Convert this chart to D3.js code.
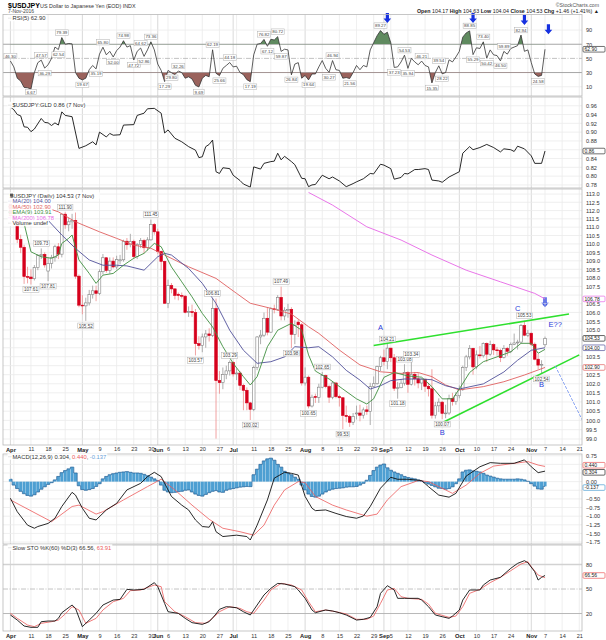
<!DOCTYPE html>
<html>
<head>
<meta charset="utf-8">
<title>$USDJPY daily</title>
<script src="https://cdn.jsdelivr.net/npm/d3@7"></script>
<style>
  body { margin: 0; background: #fff; }
  svg text { font-family: "Liberation Sans", Arial, sans-serif; }
</style>
</head>
<body>
<svg id="chart" width="606" height="640"></svg>
<script>
// ---- trading days (2016, MM-DD) ----
const days = [
 "04-01","04-04","04-05","04-06","04-07","04-08","04-11","04-12","04-13","04-14","04-15","04-18","04-19","04-20","04-21","04-22","04-25","04-26","04-27","04-28","04-29",
 "05-02","05-03","05-04","05-05","05-06","05-09","05-10","05-11","05-12","05-13","05-16","05-17","05-18","05-19","05-20","05-23","05-24","05-25","05-26","05-27","05-30","05-31",
 "06-01","06-02","06-03","06-06","06-07","06-08","06-09","06-10","06-13","06-14","06-15","06-16","06-17","06-20","06-21","06-22","06-23","06-24","06-27","06-28","06-29","06-30",
 "07-01","07-04","07-05","07-06","07-07","07-08","07-11","07-12","07-13","07-14","07-15","07-18","07-19","07-20","07-21","07-22","07-25","07-26","07-27","07-28","07-29",
 "08-01","08-02","08-03","08-04","08-05","08-08","08-09","08-10","08-11","08-12","08-15","08-16","08-17","08-18","08-19","08-22","08-23","08-24","08-25","08-26","08-29","08-30","08-31",
 "09-01","09-02","09-05","09-06","09-07","09-08","09-09","09-12","09-13","09-14","09-15","09-16","09-19","09-20","09-21","09-22","09-23","09-26","09-27","09-28","09-29","09-30",
 "10-03","10-04","10-05","10-06","10-07","10-10","10-11","10-12","10-13","10-14","10-17","10-18","10-19","10-20","10-21","10-24","10-25","10-26","10-27","10-28","10-31",
 "11-01","11-02","11-03","11-04","11-07"];
const futureDays = ["11-08","11-09","11-10","11-11","11-14","11-15","11-16","11-17","11-18","11-21","11-22"];

// ---- daily candles ----
const opens = [
 112.40,111.70,111.38,110.27,109.80,108.08,108.05,107.95,108.60,109.30,109.38,108.40,108.85,109.18,109.83,109.39,111.78,111.14,111.32,111.41,108.10,
 106.42,106.38,106.55,107.03,107.25,107.10,108.36,109.18,108.43,108.98,108.64,109.00,109.06,110.16,109.95,110.14,109.25,109.97,110.20,109.77,110.24,111.16,
 110.72,109.55,108.97,106.53,107.55,107.36,107.05,106.98,106.94,106.01,106.05,105.99,104.23,104.13,104.61,104.78,104.69,106.23,102.17,102.06,102.50,102.71,
 103.18,102.54,102.59,101.91,101.64,100.95,100.60,102.89,104.61,104.71,105.67,104.88,106.21,106.17,106.87,105.80,106.13,106.18,104.76,105.45,105.30,
 102.04,102.36,100.78,101.30,101.25,101.81,102.45,101.84,101.26,102.04,101.29,101.23,100.27,100.21,99.90,100.35,100.40,100.28,100.57,100.48,101.84,102.00,102.95,
 103.44,103.23,103.98,103.44,101.75,101.78,102.03,102.62,101.97,102.52,102.27,102.04,102.25,101.86,101.72,100.28,100.79,100.99,100.38,100.40,101.19,101.02,
 101.34,101.68,102.89,103.49,103.97,102.93,103.60,103.55,104.24,103.64,104.18,103.88,103.85,103.45,103.96,103.80,104.19,104.27,104.32,105.25,104.71,
 104.82,104.20,103.36,103.03,104.17];
const highs = [
 112.55,111.95,111.50,110.55,109.95,108.65,108.50,108.75,109.40,109.73,109.50,109.20,109.35,109.95,110.05,111.80,111.90,111.55,111.80,111.88,108.20,
 107.00,106.85,107.30,107.55,107.55,108.50,109.40,109.20,109.20,109.20,109.30,109.35,110.25,110.35,110.60,110.25,110.05,110.35,110.30,110.40,111.45,111.25,
 110.90,109.60,109.00,107.90,107.70,107.40,107.15,107.15,107.00,106.35,106.45,106.20,104.65,104.80,105.00,105.10,106.81,106.80,102.70,102.90,103.00,103.29,
 103.25,102.85,102.70,102.00,101.80,101.00,103.00,104.65,105.00,106.00,106.30,106.30,106.45,107.00,107.49,106.30,106.50,106.30,105.55,105.60,105.40,
 102.90,102.45,101.40,101.45,102.00,102.65,102.50,101.95,102.10,102.10,101.40,101.25,100.80,100.30,100.40,100.80,100.85,100.70,100.80,102.05,102.40,103.00,103.55,
 103.90,104.21,104.00,103.65,102.10,102.25,103.08,102.70,103.34,102.65,102.60,102.30,102.25,102.05,102.80,101.00,101.20,101.05,100.85,101.40,101.50,101.55,
 101.90,103.00,103.60,104.15,104.00,103.85,104.10,104.30,104.30,104.40,104.25,104.05,103.95,104.15,104.05,104.30,104.80,104.45,105.35,105.53,105.00,
 104.85,104.30,103.65,103.30,104.63];
const lows = [
 111.45,111.20,110.05,109.45,107.65,107.68,107.61,107.85,108.45,109.10,108.60,107.81,108.55,108.95,109.10,109.20,110.90,110.75,110.90,107.95,106.30,
 105.90,105.52,106.40,106.80,106.65,107.00,108.20,108.30,108.25,108.55,108.50,108.80,108.95,109.65,109.80,109.10,109.10,109.75,109.45,109.60,110.20,110.55,
 109.40,108.45,106.50,106.25,107.10,106.75,106.70,106.80,105.95,105.75,105.75,103.57,103.90,103.75,104.00,104.35,104.60,99.02,101.45,101.70,102.25,102.45,
 102.40,102.20,101.65,100.55,100.55,100.02,100.50,102.75,104.20,104.60,104.70,104.85,105.95,106.10,105.55,105.55,105.70,103.98,104.20,104.60,101.90,
 101.90,100.65,100.70,100.95,100.95,101.75,101.75,100.95,101.15,101.20,100.75,99.53,99.90,99.65,99.75,100.05,99.95,100.10,100.30,99.75,101.80,101.95,102.70,
 103.00,102.80,103.20,101.60,101.18,101.75,101.90,101.50,101.90,101.90,101.75,101.65,101.55,101.30,100.10,100.10,100.45,100.07,100.12,100.30,100.80,100.85,
 101.20,101.60,102.70,103.35,102.50,102.80,103.40,103.45,103.20,103.55,103.60,103.55,103.20,103.40,103.55,103.70,104.15,103.90,104.25,104.65,104.60,
 104.10,103.30,102.80,102.54,104.04];
const closes = [
 111.70,111.38,110.27,109.80,108.08,108.05,107.95,108.60,109.30,109.38,108.76,108.85,109.18,109.83,109.39,111.78,111.14,111.32,111.41,108.10,106.42,
 106.38,106.55,107.03,107.25,107.10,108.36,109.18,108.43,108.98,108.64,109.07,109.06,110.16,109.95,110.14,109.25,109.97,110.20,109.77,110.24,111.16,110.72,
 109.55,108.97,106.53,107.55,107.36,106.98,106.98,106.94,106.01,106.05,105.99,104.23,104.13,104.61,104.78,104.69,106.23,102.17,102.06,102.50,102.71,103.18,
 102.54,102.59,101.91,101.64,100.95,100.60,102.89,104.61,104.71,105.67,104.88,106.21,106.17,106.87,105.80,106.13,106.18,104.76,105.25,105.30,102.04,
 102.36,100.78,101.26,101.25,101.81,102.45,101.84,101.26,102.04,101.29,101.23,100.27,100.21,99.90,100.21,100.40,100.28,100.57,100.48,101.84,102.00,102.95,103.44,
 103.23,103.98,103.44,101.75,101.78,102.03,102.62,101.97,102.52,102.27,102.04,102.25,101.86,101.72,100.28,100.79,100.99,100.38,100.40,101.19,101.02,101.34,
 101.68,102.89,103.49,103.97,102.93,103.60,103.55,104.24,103.64,104.18,103.88,103.85,103.45,103.96,103.80,104.19,104.27,104.32,105.25,104.71,104.82,
 104.20,103.36,103.03,103.07,104.53];

// ---- overlays ----
const ma20 = [["04-15",111.63],["04-22",110.53],["04-28",109.73],["05-04",109.05],["05-10",108.74],["05-16",108.74],["05-19",108.70],["05-26",108.45],["06-01",109.24],["06-03",109.44],["06-07",109.34],["06-14",108.55],["06-20",107.68],["06-24",106.52],["06-30",104.99],["07-06",103.86],["07-12",103.13],["07-18",103.22],["07-22",103.49],["07-27",104.06],["08-02",104.00],["08-05",104.06],["08-11",103.49],["08-17",102.74],["08-23",102.20],["08-26",101.71],["08-31",101.89],["09-05",102.17],["09-09",102.26],["09-16",102.26],["09-21",102.22],["09-27",101.89],["10-03",101.71],["10-12",101.99],["10-20",102.65],["10-26",103.30],["11-01",103.86],["11-07",104.00]];
const ma50 = [["04-15",112.21],["04-21",111.92],["04-28",111.32],["05-09",110.72],["05-16",110.33],["05-23",109.93],["05-30",109.74],["06-03",109.34],["06-14",108.65],["06-24",107.97],["07-04",107.10],["07-08",106.53],["07-18",106.24],["07-26",105.91],["08-02",105.19],["08-05",104.81],["08-15",103.87],["08-23",103.04],["08-31",102.66],["09-08",102.57],["09-15",102.62],["09-21",102.39],["09-27",101.93],["10-03",101.66],["10-12",101.84],["10-20",102.11],["10-28",102.48],["11-03",102.76],["11-07",102.90]];
const ema9 = [["04-07",111.22],["04-11",109.53],["04-14",109.24],["04-19",109.15],["04-21",109.34],["04-22",110.03],["04-26",110.33],["04-27",110.53],["04-29",109.05],["05-04",108.26],["05-06",107.68],["05-10",108.16],["05-13",108.26],["05-18",108.74],["05-23",109.15],["05-26",109.44],["05-31",110.03],["06-02",109.83],["06-07",108.64],["06-10",107.77],["06-15",106.90],["06-20",105.95],["06-23",105.18],["06-28",104.06],["07-01",103.13],["07-06",102.39],["07-08",101.93],["07-12",102.39],["07-15",104.06],["07-20",104.99],["07-26",105.38],["07-29",104.99],["08-02",103.60],["08-04",102.70],["08-10",102.26],["08-16",101.71],["08-22",101.17],["08-25",100.89],["08-29",101.17],["09-01",102.35],["09-06",102.62],["09-12",102.43],["09-16",102.36],["09-21",101.84],["09-26",101.17],["09-29",101.17],["10-03",101.71],["10-06",102.62],["10-12",103.22],["10-18",103.49],["10-24",103.77],["10-27",104.25],["11-01",104.25],["11-03",103.69],["11-07",103.91]];
const ma200 = [["08-02",113.10],["08-11",112.33],["08-25",111.02],["09-08",110.23],["09-21",109.34],["10-05",108.45],["10-19",107.77],["11-02",107.10],["11-07",106.78]];

// ---- ratio $USDJPY:GLD ----
const gld = [["04-01",0.957],["04-04",0.951],["04-05",0.940],["04-06",0.937],["04-07",0.912],["04-08",0.911],["04-11",0.901],["04-12",0.907],["04-14",0.931],["04-15",0.922],["04-18",0.921],["04-19",0.915],["04-20",0.921],["04-21",0.916],["04-22",0.946],["04-25",0.938],["04-27",0.935],["04-29",0.863],["05-03",0.869],["05-05",0.878],["05-06",0.871],["05-09",0.900],["05-11",0.889],["05-12",0.897],["05-13",0.893],["05-17",0.894],["05-18",0.916],["05-23",0.917],["05-24",0.938],["05-26",0.943],["05-27",0.953],["05-31",0.954],["06-02",0.943],["06-03",0.898],["06-06",0.905],["06-08",0.886],["06-10",0.878],["06-14",0.867],["06-16",0.859],["06-17",0.842],["06-20",0.844],["06-21",0.867],["06-22",0.872],["06-23",0.882],["06-24",0.810],["06-27",0.806],["06-28",0.819],["06-30",0.817],["07-01",0.802],["07-05",0.790],["07-06",0.782],["07-08",0.775],["07-11",0.821],["07-13",0.816],["07-14",0.829],["07-18",0.833],["07-19",0.834],["07-20",0.852],["07-21",0.837],["07-22",0.845],["07-26",0.833],["07-27",0.826],["07-29",0.795],["08-01",0.794],["08-02",0.776],["08-03",0.780],["08-04",0.781],["08-08",0.802],["08-10",0.794],["08-11",0.798],["08-15",0.789],["08-17",0.776],["08-19",0.783],["08-22",0.787],["08-24",0.794],["08-26",0.806],["08-29",0.805],["08-31",0.827],["09-01",0.825],["09-05",0.817],["09-06",0.793],["09-08",0.797],["09-09",0.806],["09-12",0.805],["09-14",0.815],["09-15",0.815],["09-19",0.817],["09-20",0.815],["09-21",0.791],["09-23",0.789],["09-26",0.786],["09-28",0.798],["10-03",0.810],["10-04",0.852],["10-06",0.867],["10-07",0.860],["10-11",0.865],["10-13",0.872],["10-17",0.865],["10-19",0.855],["10-20",0.862],["10-24",0.860],["10-25",0.856],["10-26",0.868],["10-28",0.862],["11-01",0.846],["11-02",0.829],["11-04",0.829],["11-07",0.857]];

// ---- RSI(5) ----
const rsi = [["04-01",46.30],["04-04",38],["04-05",22],["04-06",18],["04-07",9],["04-08",8.5],["04-11",6.67],["04-12",30],["04-13",44],["04-14",47.57],["04-15",36.29],["04-18",41],["04-19",50],["04-20",66],["04-21",62.54],["04-22",79.39],["04-25",70],["04-26",71],["04-27",70.5],["04-28",30],["04-29",22],
 ["05-02",19.67],["05-03",22],["05-04",34],["05-05",40],["05-06",35.19],["05-09",56],["05-10",65.80],["05-11",55],["05-12",60],["05-13",52.00],["05-16",61],["05-17",66],["05-18",74.98],["05-19",66],["05-20",68],["05-23",47.72],["05-24",60],["05-25",64.62],["05-26",52.86],["05-27",62],["05-30",73.36],["05-31",62],
 ["06-01",42],["06-02",33],["06-03",17.29],["06-06",33],["06-07",29.80],["06-08",27],["06-09",32.26],["06-10",30],["06-13",22],["06-14",24],["06-15",21],["06-16",12],["06-17",9.69],["06-20",22],["06-21",26],["06-22",24],["06-23",62.19],["06-24",29],["06-27",25.66],["06-28",36],["06-29",40],["06-30",44.18],
 ["07-01",38],["07-04",39],["07-05",30],["07-06",27],["07-07",20],["07-08",17.19],["07-11",55],["07-12",70],["07-13",71],["07-14",76.82],["07-15",67.12],["07-18",77],["07-19",76],["07-20",80.72],["07-21",59.87],["07-22",63],["07-25",62],["07-26",26.84],["07-27",42],["07-28",44],["07-29",22],
 ["08-01",26],["08-02",19.64],["08-03",28],["08-04",28],["08-05",38],["08-08",47],["08-09",36],["08-10",30.27],["08-11",46.94],["08-12",34],["08-15",33],["08-16",22],["08-17",23],["08-18",21.56],["08-19",30],["08-22",40],["08-23",34],["08-24",40],["08-25",38],["08-26",62],["08-29",72],["08-30",82],["08-31",89.27],
 ["09-01",84],["09-02",87],["09-05",72],["09-06",37.23],["09-07",38],["09-08",45],["09-09",54.53],["09-12",35.94],["09-13",50],["09-14",45],["09-15",41],["09-16",46.21],["09-19",40],["09-20",38],["09-21",15.35],["09-22",30],["09-23",39.54],["09-26",28.22],["09-27",30],["09-28",48],["09-29",45],["09-30",52],
 ["10-03",60],["10-04",80],["10-05",86],["10-06",88.85],["10-07",55.29],["10-10",65],["10-11",64],["10-12",73.40],["10-13",50.42],["10-14",62],["10-17",55],["10-18",54],["10-19",46.50],["10-20",59.89],["10-21",56],["10-24",64],["10-25",66],["10-26",68],["10-27",82.94],["10-28",60],["10-31",62],
 ["11-01",44],["11-02",28],["11-03",24.58],["11-04",26],["11-07",62.90]];
const rsiNotes = [["04-01","a"],["04-11","b"],["04-14","a"],["04-15","b"],["04-21","b"],["04-22","a"],["05-02","b"],["05-06","b"],["05-10","a"],["05-13","b"],["05-18","a"],["05-23","b"],["05-25","a"],["05-26","b"],["05-30","a"],["06-03","b"],["06-07","b"],["06-09","a"],["06-17","b"],["06-23","a"],["06-27","b"],["06-30","a"],["07-08","b"],["07-14","a"],["07-15","b"],["07-20","a"],["07-21","b"],["07-26","b"],["08-02","b"],["08-10","b"],["08-11","a"],["08-18","b"],["08-31","a"],["09-06","b"],["09-09","a"],["09-12","b"],["09-16","a"],["09-21","b"],["09-23","a"],["09-26","b"],["10-06","a"],["10-07","b"],["10-12","a"],["10-13","b"],["10-19","b"],["10-20","a"],["10-27","a"],["11-03","b"]];

// ---- MACD(12,26,9) ----
const macdLine = [["04-01",-0.48],["04-05",-0.87],["04-08",-1.26],["04-12",-1.35],["04-13",-1.30],["04-18",-1.21],["04-20",-1.06],["04-22",-0.72],["04-27",-0.31],["04-28",-0.39],["05-02",-0.77],["05-04",-1.06],["05-06",-1.11],["05-11",-0.82],["05-16",-0.63],["05-19",-0.24],["05-25",-0.05],["05-27",0.145],["05-31",0.27],["06-02",0.145],["06-07",-0.43],["06-10",-0.68],["06-14",-0.82],["06-16",-1.11],["06-20",-1.30],["06-22",-1.32],["06-23",-1.16],["06-24",-1.45],["06-28",-1.59],["07-04",-1.55],["07-07",-1.59],["07-08",-1.69],["07-12",-1.26],["07-15",-0.53],["07-19",0.10],["07-22",0.27],["07-26",0.24],["07-28",0.19],["08-01",-0.43],["08-03",-0.77],["08-04",-0.84],["08-09",-0.82],["08-12",-0.92],["08-17",-1.01],["08-22",-1.06],["08-24",-0.995],["08-26",-0.72],["08-31",-0.19],["09-05",0.126],["09-07",0.068],["09-12",0.068],["09-16",0.03],["09-20",-0.145],["09-23",-0.39],["09-28",-0.45],["09-30",-0.34],["10-05",0.16],["10-11",0.43],["10-14",0.55],["10-19",0.53],["10-25",0.53],["10-28",0.63],["11-01",0.43],["11-03",0.26],["11-07",0.304]];
const macdSignal = [["04-01",-0.53],["04-19",-1.16],["04-27",-0.72],["04-29",-0.68],["05-06",-0.94],["05-10",-0.87],["05-18",-0.53],["05-27",-0.145],["06-02",0.07],["06-08",-0.24],["06-15",-0.68],["06-22",-1.09],["06-28",-1.35],["07-05",-1.45],["07-11",-1.55],["07-14",-1.26],["07-19",-0.68],["07-22",-0.24],["07-28",0.0],["08-01",-0.03],["08-04",-0.43],["08-11",-0.68],["08-17",-0.82],["08-25",-1.0],["08-30",-0.94],["09-02",-0.53],["09-08",-0.145],["09-15",0.03],["09-20",0.0],["09-27",-0.24],["09-29",-0.34],["10-05",-0.1],["10-11",0.24],["10-17",0.45],["10-25",0.53],["10-31",0.58],["11-03",0.48],["11-07",0.44]];
const macdHist = [
 0.07,-0.10,-0.20,-0.28,-0.35,-0.40,-0.42,-0.38,-0.30,-0.22,-0.15,-0.08,-0.03,0.05,0.15,0.26,0.32,0.37,0.42,0.25,-0.12,
 -0.23,-0.25,-0.23,-0.20,-0.14,-0.06,0.08,0.15,0.20,0.23,0.25,0.27,0.28,0.29,0.27,0.25,0.25,0.24,0.21,0.17,0.13,0.08,
 0.03,-0.10,-0.25,-0.30,-0.32,-0.31,-0.29,-0.28,-0.25,-0.24,-0.30,-0.36,-0.40,-0.42,-0.37,-0.32,-0.28,-0.26,-0.30,-0.31,-0.25,-0.22,
 -0.20,-0.18,-0.16,-0.15,-0.14,-0.145,0.20,0.36,0.50,0.60,0.66,0.68,0.62,0.50,0.42,0.30,0.25,0.20,0.13,0.07,-0.10,
 -0.24,-0.36,-0.43,-0.45,-0.42,-0.36,-0.30,-0.25,-0.22,-0.20,-0.19,-0.18,-0.16,-0.15,-0.15,-0.14,-0.10,-0.05,0.04,0.18,0.32,0.42,0.48,
 0.51,0.40,0.33,0.28,0.24,0.20,0.15,0.12,0.10,0.08,0.05,0.02,-0.03,-0.07,-0.11,-0.15,-0.19,-0.20,-0.22,-0.20,-0.15,-0.06,
 0.08,0.28,0.33,0.34,0.31,0.30,0.28,0.24,0.19,0.16,0.13,0.10,0.08,0.07,0.07,0.07,0.07,0.08,0.07,0.05,0.01,
 -0.06,-0.13,-0.21,-0.22,-0.137];

// ---- Slow STO %K(60) %D(3) ----
const stoK = [["04-01",18.2],["04-05",12.0],["04-07",4.7],["04-11",3.1],["04-13",3.1],["04-14",10],["04-18",10.8],["04-20",10.8],["04-21",14.1],["04-22",21],["04-27",30.4],["04-28",26.3],["05-02",3.9],["05-04",12],["05-06",20.2],["05-10",30.4],["05-13",36.5],["05-17",37.3],["05-19",49.6],["05-23",48.8],["05-26",49.6],["05-31",57.8],["06-01",52.9],["06-03",32.4],["06-06",22.2],["06-09",20.2],["06-13",14.1],["06-15",8.8],["06-20",6.7],["06-22",10],["06-24",19.4],["06-27",25.1],["06-29",28.4],["07-04",27.1],["07-06",22.2],["07-08",18.2],["07-12",30.4],["07-14",42.7],["07-18",50.8],["07-20",56.9],["07-22",56.1],["07-27",52.9],["07-28",48.8],["08-01",38.6],["08-03",24.3],["08-04",21],["08-09",24.3],["08-11",23.1],["08-15",21],["08-17",18.2],["08-22",12],["08-24",12.9],["08-26",15.3],["08-30",28.4],["08-31",44.7],["09-02",54.1],["09-06",48.8],["09-07",38.6],["09-09",38.6],["09-15",38.6],["09-16",36.5],["09-20",28.4],["09-22",18.2],["09-26",16.1],["09-28",14.1],["09-29",16.9],["10-03",24.3],["10-04",36.5],["10-06",48.8],["10-11",48.8],["10-12",54.9],["10-14",61],["10-19",64.3],["10-24",75.3],["10-26",81.4],["10-28",84.7],["10-31",82.2],["11-02",71.2],["11-03",61],["11-04",64.3],["11-07",66.56]];
const stoD = [["04-01",20.2],["04-05",14.1],["04-08",5.9],["04-12",3.9],["04-14",8],["04-19",10],["04-21",12],["04-25",19.4],["04-27",28.4],["04-29",24.3],["05-03",8],["05-06",14.1],["05-10",24.3],["05-13",34.5],["05-18",38.6],["05-20",48],["05-25",48.8],["05-31",54.9],["06-02",52.9],["06-03",34.5],["06-08",22.2],["06-13",16.1],["06-16",8.8],["06-21",8],["06-23",14.1],["06-27",22.2],["06-30",28.4],["07-05",26.3],["07-07",22.2],["07-11",20.2],["07-14",36.5],["07-18",48.8],["07-21",56.9],["07-26",54.9],["07-29",48.8],["08-02",34.5],["08-04",22.2],["08-09",24.3],["08-12",22.2],["08-17",19.4],["08-22",12.9],["08-25",12.9],["08-29",16.9],["08-31",32.4],["09-02",48.8],["09-06",50.8],["09-08",40.6],["09-12",38.6],["09-16",37.3],["09-20",31.6],["09-22",20.2],["09-28",15.3],["09-30",16.9],["10-04",28.4],["10-06",44.7],["10-11",49.6],["10-14",57.8],["10-19",64.3],["10-24",72.4],["10-27",80.6],["10-31",83.5],["11-01",77.3],["11-03",67.1],["11-07",63.91]];

// ---- price high/low tags, hand annotations ----
const priceNotes = [["04-11","L"],["04-14","H"],["04-18","L"],["04-25","H"],["05-03","L"],["05-30","H"],["06-16","L"],["06-23","H"],["06-30","H"],["07-08","L"],["07-21","H"],["07-26","L"],["08-02","L"],["08-08","H"],["08-16","L"],["09-02","H"],["09-07","L"],["09-09","H"],["09-13","H"],["09-26","L"],["10-28","H"],["11-04","L"]];
const trendLines = [[["08-29",104.13],["11-16",105.91]], [["09-26",99.87],["11-21",103.60]]];
const projection = [["11-10",102.98],["11-22",99.97]];
const waveLabels = [["A","08-31",105.16],["B","09-26",99.37],["C","10-26",106.25],["B","11-04",101.93],["E??","11-10",105.34]];
const rsiArrows = [["09-02",100],["10-07",100],["10-28",97],["11-08",84]];
const priceArrows = [["11-07",106.30]];

// ---- axis ticks ----
const monthDays = ["04-01","05-02","06-01","07-01","08-01","09-01","10-03","11-01"];
const monthLabels = ["Apr","May","Jun","Jul","Aug","Sep","Oct","Nov"];
const weekDays = ["04-11","04-18","04-25","05-09","05-16","05-23","05-30","06-06","06-13","06-20","06-27","07-11","07-18","07-25","08-08","08-15","08-22","08-29","09-05","09-12","09-19","09-26","10-10","10-17","10-24","11-07","11-14","11-21"];
const weekLabels = ["11","18","25","9","16","23","30","6","13","20","27","11","18","25","8","15","22","29","5","12","19","26","10","17","24","7","14","21"];
const extraGridDays = ["04-04","07-04","10-31"];
const priceTicks = [99.0,99.5,100.0,100.5,101.0,101.5,102.0,102.5,103.0,103.5,104.0,104.5,105.0,105.5,106.0,106.5,107.0,107.5,108.0,108.5,109.0,109.5,110.0,110.5,111.0,111.5,112.0,112.5,113.0];
const rsiTicks = [10,30,50,70,90];
const gldTicks = [0.78,0.80,0.82,0.84,0.86,0.88,0.90,0.92,0.94,0.96];
const macdTicks = [0.75,0.50,0.25,0.00,-0.25,-0.50,-0.75,-1.00,-1.25,-1.50,-1.75];
const stoTicks = [20,50,80];
const headerValues = ["104.17","104.63","104.04","104.53","+1.46 (+1.41%)"];

// ---------------------------------------------------------------
const allDays = days.concat(futureDays);
[opens, highs, lows, closes, macdHist].forEach(a => { if (a.length !== days.length) throw new Error("length " + a.length); });
[ma20, ma50, ema9, ma200, gld, rsi, macdLine, macdSignal, stoK, stoD].forEach(a => a.forEach(p => { if (allDays.indexOf(p[0]) < 0) throw new Error("bad day " + p[0]); }));

const svg = d3.select("#chart");
const L = 3, R = 582;
const x = d3.scalePoint().domain(allDays).range([10.4, 582.7]);

const P = { rsi: [14.5, 96], gld: [97, 188], px: [189, 445], macd: [454, 544], sto: [545, 631] };
const yRsi = d3.scaleLinear().domain([-3.1, 112.7]).range([96, 14]);
const yGld = d3.scaleLinear().domain([0.773, 0.9798]).range([188, 97]);
const yPx = d3.scaleLog().domain([98.68, 113.31]).range([445, 189]);
const yMacd = d3.scaleLinear().domain([-1.806, 0.80]).range([544, 454]);
const ySto = d3.scaleLinear().domain([-1.4, 103.9]).range([631, 545]);

svg.append("rect").attr("width", 606).attr("height", 640).attr("fill", "#fff");
const defs = svg.append("defs");
Object.entries(P).forEach(([k, [t, b]]) => {
  defs.append("clipPath").attr("id", "clip-" + k).append("rect")
    .attr("x", L).attr("y", t).attr("width", R - L).attr("height", b - t);
});

function vGrid(t, b) {
  const g = svg.append("g");
  g.selectAll("line.w").data(weekDays.concat(extraGridDays).filter(d => x(d) < R)).join("line")
    .attr("x1", d => x(d)).attr("x2", d => x(d)).attr("y1", t).attr("y2", b)
    .attr("stroke", "#ebebeb").attr("stroke-width", 0.8);
  g.selectAll("line.m").data(monthDays).join("line")
    .attr("x1", d => x(d)).attr("x2", d => x(d)).attr("y1", t).attr("y2", b)
    .attr("stroke", "#cfcfcf").attr("stroke-width", 0.8);
}
function hGrid(scale, ticks, color) {
  svg.append("g").selectAll("line").data(ticks).join("line")
    .attr("x1", L).attr("x2", R).attr("y1", d => scale(d)).attr("y2", d => scale(d))
    .attr("stroke", color || "#ebebeb").attr("stroke-width", 0.8);
}
function hLine(y, color, width, dash) {
  svg.append("line").attr("x1", L).attr("x2", R).attr("y1", y).attr("y2", y)
    .attr("stroke", color).attr("stroke-width", width).attr("stroke-dasharray", dash || null);
}
function frame(k) {
  svg.append("rect").attr("x", L).attr("y", P[k][0]).attr("width", R - L).attr("height", P[k][1] - P[k][0])
    .attr("fill", "none").attr("stroke", "#b8b8b8").attr("stroke-width", 0.8);
}
// right-hand axis; tick labels that sit under a value box are left out, as on the original
function rightAxis(scale, ticks, fmt, boxYs) {
  const shown = ticks.filter(t => !(boxYs || []).some(by => Math.abs(scale(t) - by) < 4.5));
  svg.append("g").attr("transform", `translate(${R},0)`)
    .call(d3.axisRight(scale).tickValues(shown).tickSize(0).tickPadding(4).tickFormat(fmt))
    .call(g => g.select(".domain").remove())
    .call(g => g.selectAll("text").attr("font-size", 5.6).attr("fill", "#333").attr("font-family", null));
}
function valueBox(y, txt, color) {
  svg.append("rect").attr("x", R + 1).attr("y", y - 2.8).attr("width", 22).attr("height", 5.6)
    .attr("fill", "#fff").attr("stroke", color).attr("stroke-width", 0.7).attr("rx", 1);
  svg.append("text").attr("x", R + 2.5).attr("y", y + 1.8).attr("font-size", 5).attr("fill", "#222").text(txt);
}
function tag(g, cx, cy, txt, size) {
  const t = g.append("text").attr("x", cx).attr("y", cy + size * 0.36).attr("text-anchor", "middle")
    .attr("font-size", size).attr("fill", "#444").text(txt);
  const w = t.node().getComputedTextLength();
  g.insert("rect", () => t.node()).attr("x", cx - w / 2 - 1).attr("y", cy - size * 0.62)
    .attr("width", w + 2).attr("height", size * 1.24).attr("fill", "#fff").attr("stroke", "#b0b0b0").attr("stroke-width", 0.5);
}
function legend(xp, yp, parts, swatch) {
  const g = svg.append("g");
  if (swatch) g.append("line").attr("x1", xp).attr("x2", xp + 3.5).attr("y1", yp - 1.8).attr("y2", yp - 1.8)
    .attr("stroke", swatch).attr("stroke-width", 1.2);
  const t = g.append("text").attr("x", xp + (swatch ? 4.5 : 0)).attr("y", yp).attr("font-size", 5.8);
  parts.forEach(p => t.append("tspan").attr("fill", p[1]).attr("font-weight", p[2] ? "bold" : null).text(p[0]));
  const w = t.node().getComputedTextLength();
  g.insert("rect", () => t.node()).attr("x", xp - 0.5).attr("y", yp - 5.2).attr("width", w + 6).attr("height", 6.4)
    .attr("fill", "#fff").attr("opacity", 0.9);
  return g;
}
function arrow(g, cx, tip) {
  g.append("path").attr("d", `M${cx - 1.6},${tip - 10} h3.2 v5.5 h2.2 l-3.8,4.5 l-3.8,-4.5 h2.2 z`)
    .attr("fill", "#1530e0");
}
const lineGen = s => d3.line().x(d => x(d[0])).y(d => s(d[1]));

// ================= header =================
svg.append("text").attr("x", 8).attr("y", 7.5).attr("font-size", 7).attr("font-weight", "bold").text("$USDJPY");
svg.append("text").attr("x", 40).attr("y", 7.5).attr("font-size", 5.4).attr("fill", "#333").text("US Dollar to Japanese Yen (EOD) INDX");
svg.append("text").attr("x", 8).attr("y", 13).attr("font-size", 5).attr("fill", "#444").text("7-Nov-2016");
svg.append("text").attr("x", 599).attr("y", 7).attr("text-anchor", "end").attr("font-size", 5.2).attr("fill", "#555").text("©StockCharts.com");
const hdr = svg.append("text").attr("x", 599).attr("y", 13).attr("text-anchor", "end").attr("font-size", 5.3).attr("fill", "#222");
[["Open ", 1], [headerValues[0] + "  ", 0], ["High ", 1], [headerValues[1] + "  ", 0], ["Low ", 1], [headerValues[2] + "  ", 0],
 ["Close ", 1], [headerValues[3] + "  ", 0], ["Chg ", 1], [headerValues[4] + " ▲", 0]]
  .forEach(p => hdr.append("tspan").attr("font-weight", p[1] ? "bold" : null).text(p[0]));

// ================= RSI panel =================
vGrid(P.rsi[0], P.rsi[1]);
hGrid(yRsi, [10, 90]);
hLine(yRsi(50), "#b4b4b4", 0.8, "5,1.5,1,1.5");
hLine(yRsi(70), "#9c9c9c", 0.9);
hLine(yRsi(30), "#9c9c9c", 0.9);
defs.append("clipPath").attr("id", "rsi-hi").append("rect").attr("x", L).attr("y", P.rsi[0]).attr("width", R - L).attr("height", yRsi(70) - P.rsi[0]);
defs.append("clipPath").attr("id", "rsi-lo").append("rect").attr("x", L).attr("y", yRsi(30)).attr("width", R - L).attr("height", P.rsi[1] - yRsi(30));
svg.append("path").datum(rsi).attr("clip-path", "url(#rsi-hi)").attr("fill", "#5f8a5f")
  .attr("d", d3.area().x(d => x(d[0])).y0(yRsi(70)).y1(d => yRsi(d[1])));
svg.append("path").datum(rsi).attr("clip-path", "url(#rsi-lo)").attr("fill", "#9a625c")
  .attr("d", d3.area().x(d => x(d[0])).y0(yRsi(30)).y1(d => yRsi(d[1])));
svg.append("path").datum(rsi).attr("fill", "none").attr("stroke", "#333").attr("stroke-width", 0.8).attr("d", lineGen(yRsi));
const gRsiTags = svg.append("g");
const rsiMap = new Map(rsi);
rsiNotes.forEach(([d, pos]) => {
  const v = rsiMap.get(d);
  const cy = Math.max(P.rsi[0] + 4, Math.min(P.rsi[1] - 4, yRsi(v) + (pos === "a" ? -5 : 5)));
  tag(gRsiTags, x(d), cy, v.toFixed(2), 4.4);
});
const gArr = svg.append("g");
rsiArrows.forEach(([d, v]) => arrow(gArr, x(d), yRsi(v)));
frame("rsi");
rightAxis(yRsi, rsiTicks, d3.format("d"), [yRsi(62.90)]);
valueBox(yRsi(62.90), "62.90", "#333");
legend(8, 20, [["RSI(5) 62.90", "#333"]], "#333");

// ================= $USDJPY:GLD panel =================
vGrid(P.gld[0], P.gld[1]);
hGrid(yGld, gldTicks);
svg.append("path").datum(gld).attr("clip-path", "url(#clip-gld)").attr("fill", "none")
  .attr("stroke", "#111").attr("stroke-width", 0.9).attr("d", lineGen(yGld));
frame("gld");
rightAxis(yGld, gldTicks, d3.format(".2f"), [yGld(0.857)]);
valueBox(yGld(0.857), "0.86", "#333");
legend(8, 107, [["$USDJPY:GLD 0.86 (7 Nov)", "#333"]], "#111");

// ================= price panel =================
vGrid(P.px[0], P.px[1]);
hGrid(yPx, priceTicks);
const candles = days.map((d, i) => ({ d, o: opens[i], h: highs[i], l: lows[i], c: closes[i] }));
const gPx = svg.append("g").attr("clip-path", "url(#clip-px)");
gPx.selectAll("line.wick").data(candles).join("line")
  .attr("x1", d => x(d.d)).attr("x2", d => x(d.d)).attr("y1", d => yPx(d.h)).attr("y2", d => yPx(d.l))
  .attr("stroke", d => d.c < d.o ? "#ee8c8c" : "#9a9a9a").attr("stroke-width", 0.8);
gPx.selectAll("rect.body").data(candles).join("rect")
  .attr("x", d => x(d.d) - 1.3).attr("width", 2.6)
  .attr("y", d => yPx(Math.max(d.o, d.c)))
  .attr("height", d => Math.max(0.8, Math.abs(yPx(d.o) - yPx(d.c))))
  .attr("fill", d => d.c < d.o ? "#d6001c" : "#fff")
  .attr("stroke", d => d.c < d.o ? "#d6001c" : "#808080").attr("stroke-width", 0.6);
[[ma50, "#e06060"], [ma20, "#50509a"], [ema9, "#3f8f3f"], [ma200, "#e667e6"]].forEach(([s, c]) => {
  gPx.append("path").datum(s).attr("fill", "none").attr("stroke", c).attr("stroke-width", 0.9).attr("d", lineGen(yPx));
});
trendLines.forEach(tl => gPx.append("path").datum(tl).attr("fill", "none")
  .attr("stroke", "#2ee02e").attr("stroke-width", 1.6).attr("d", lineGen(yPx)));
gPx.append("path").datum(projection).attr("fill", "none").attr("stroke", "#7896f0")
  .attr("stroke-width", 0.9).attr("stroke-dasharray", "3,1.5").attr("d", lineGen(yPx));
const gTags = svg.append("g");
priceNotes.forEach(([d, k]) => {
  const i = days.indexOf(d);
  const cy = k === "H" ? yPx(highs[i]) - 5 : yPx(lows[i]) + 5;
  tag(gTags, x(d), cy, (k === "H" ? highs[i] : lows[i]).toFixed(2), 4.6);
});
waveLabels.forEach(([t, d, v]) => svg.append("text").attr("x", x(d)).attr("y", yPx(v) + 2.5)
  .attr("text-anchor", "middle").attr("font-size", 7.5).attr("fill", "#2a3bd8").text(t));
priceArrows.forEach(([d, v]) => arrow(gArr, x(d), yPx(v)));
frame("px");
const pxBoxes = [[106.78, "#e667e6"], [104.53, "#222"], [104.00, "#50509a"], [102.90, "#e06060"]];
rightAxis(yPx, priceTicks, d3.format(".1f"), pxBoxes.map(b => yPx(b[0])));
pxBoxes.forEach(([v, c]) => valueBox(yPx(v), v.toFixed(2), c));
legend(10, 197.5, [["$USDJPY (Daily) 104.53 (7 Nov)", "#333"]]);
svg.append("rect").attr("x", 10).attr("y", 193.6).attr("width", 3).attr("height", 3).attr("fill", "#555");
legend(8, 203, [["MA(20) 104.00", "#50509a"]], "#50509a");
legend(8, 208.5, [["MA(50) 102.90", "#e06060"]], "#e06060");
legend(8, 214, [["EMA(9) 103.91", "#3f8f3f"]], "#3f8f3f");
legend(8, 219.5, [["MA(200) 106.78", "#e667e6"]], "#e667e6");
legend(8, 225, [["Volume undef", "#333"]], "#555");

// date axes
function dateAxis(y, pad) {
  svg.append("g").attr("transform", `translate(0,${y})`)
    .call(d3.axisBottom(x).tickValues(weekDays).tickSize(0).tickPadding(pad).tickFormat(d => weekLabels[weekDays.indexOf(d)]))
    .call(g => g.select(".domain").remove())
    .call(g => g.selectAll("text").attr("font-size", 5.6).attr("fill", "#333").attr("font-family", null));
  svg.append("g").attr("transform", `translate(0,${y})`)
    .call(d3.axisBottom(x).tickValues(monthDays).tickSize(0).tickPadding(pad).tickFormat(d => monthLabels[monthDays.indexOf(d)]))
    .call(g => g.select(".domain").remove())
    .call(g => g.selectAll("text").attr("font-size", 5.8).attr("font-weight", "bold").attr("fill", "#222").attr("font-family", null));
}
dateAxis(P.px[1], 2.5);

// ================= MACD panel =================
vGrid(P.macd[0], P.macd[1]);
hGrid(yMacd, macdTicks);
const gM = svg.append("g").attr("clip-path", "url(#clip-macd)");
const bars = days.map((d, i) => [d, macdHist[i]]);
gM.selectAll("rect").data(bars).join("rect")
  .attr("x", d => x(d[0]) - 1.55).attr("width", 3.1)
  .attr("y", d => yMacd(Math.max(0, d[1]))).attr("height", d => Math.abs(yMacd(d[1]) - yMacd(0)))
  .attr("fill", "#4e9fd2");
gM.append("path").datum(bars).attr("fill", "none").attr("stroke", "#1f5f96").attr("stroke-width", 0.7)
  .attr("d", d3.line().curve(d3.curveStep).x(d => x(d[0])).y(d => yMacd(d[1])));
gM.append("path").datum(macdSignal).attr("fill", "none").attr("stroke", "#ec5a5a").attr("stroke-width", 0.8).attr("d", lineGen(yMacd));
gM.append("path").datum(macdLine).attr("fill", "none").attr("stroke", "#111").attr("stroke-width", 0.9).attr("d", lineGen(yMacd));
frame("macd");
// boxes are nudged slightly so they stack instead of covering each other or the 0.00 label
const macdBoxes = [[yMacd(0.440) - 1.2, "0.440", "#ec5a5a"], [yMacd(0.304) + 1.2, "0.304", "#222"], [yMacd(-0.137) + 1.2, "-0.137", "#4e9fd2"]];
rightAxis(yMacd, macdTicks, d3.format(".2f"), macdBoxes.map(b => b[0]));
macdBoxes.forEach(([y, t, c]) => valueBox(y, t, c));
legend(8, 458.5, [["MACD(12,26,9) 0.304, ", "#333"], ["0.440", "#ec5a5a"], [", ", "#333"], ["-0.137", "#6a9fd8"]], "#111");

// ================= STO panel =================
vGrid(P.sto[0], P.sto[1]);
hLine(ySto(80), "#d2d2d2", 1.6);
hLine(ySto(20), "#b0b0b0", 0.9);
hLine(ySto(50), "#b4b4b4", 0.8, "5,1.5,1,1.5");
const gS = svg.append("g").attr("clip-path", "url(#clip-sto)");
gS.append("path").datum(stoD).attr("fill", "none").attr("stroke", "#ec5a5a").attr("stroke-width", 0.8).attr("d", lineGen(ySto));
gS.append("path").datum(stoK).attr("fill", "none").attr("stroke", "#111").attr("stroke-width", 0.9).attr("d", lineGen(ySto));
frame("sto");
rightAxis(ySto, stoTicks, d3.format("d"), [ySto(66.56)]);
valueBox(ySto(66.56), "66.56", "#ec5a5a");
legend(8, 549.5, [["Slow STO %K(60) %D(3) 66.56, ", "#333"], ["63.91", "#ec5a5a"]], "#111");
dateAxis(P.sto[1], 3);
</script>
</body>
</html>
